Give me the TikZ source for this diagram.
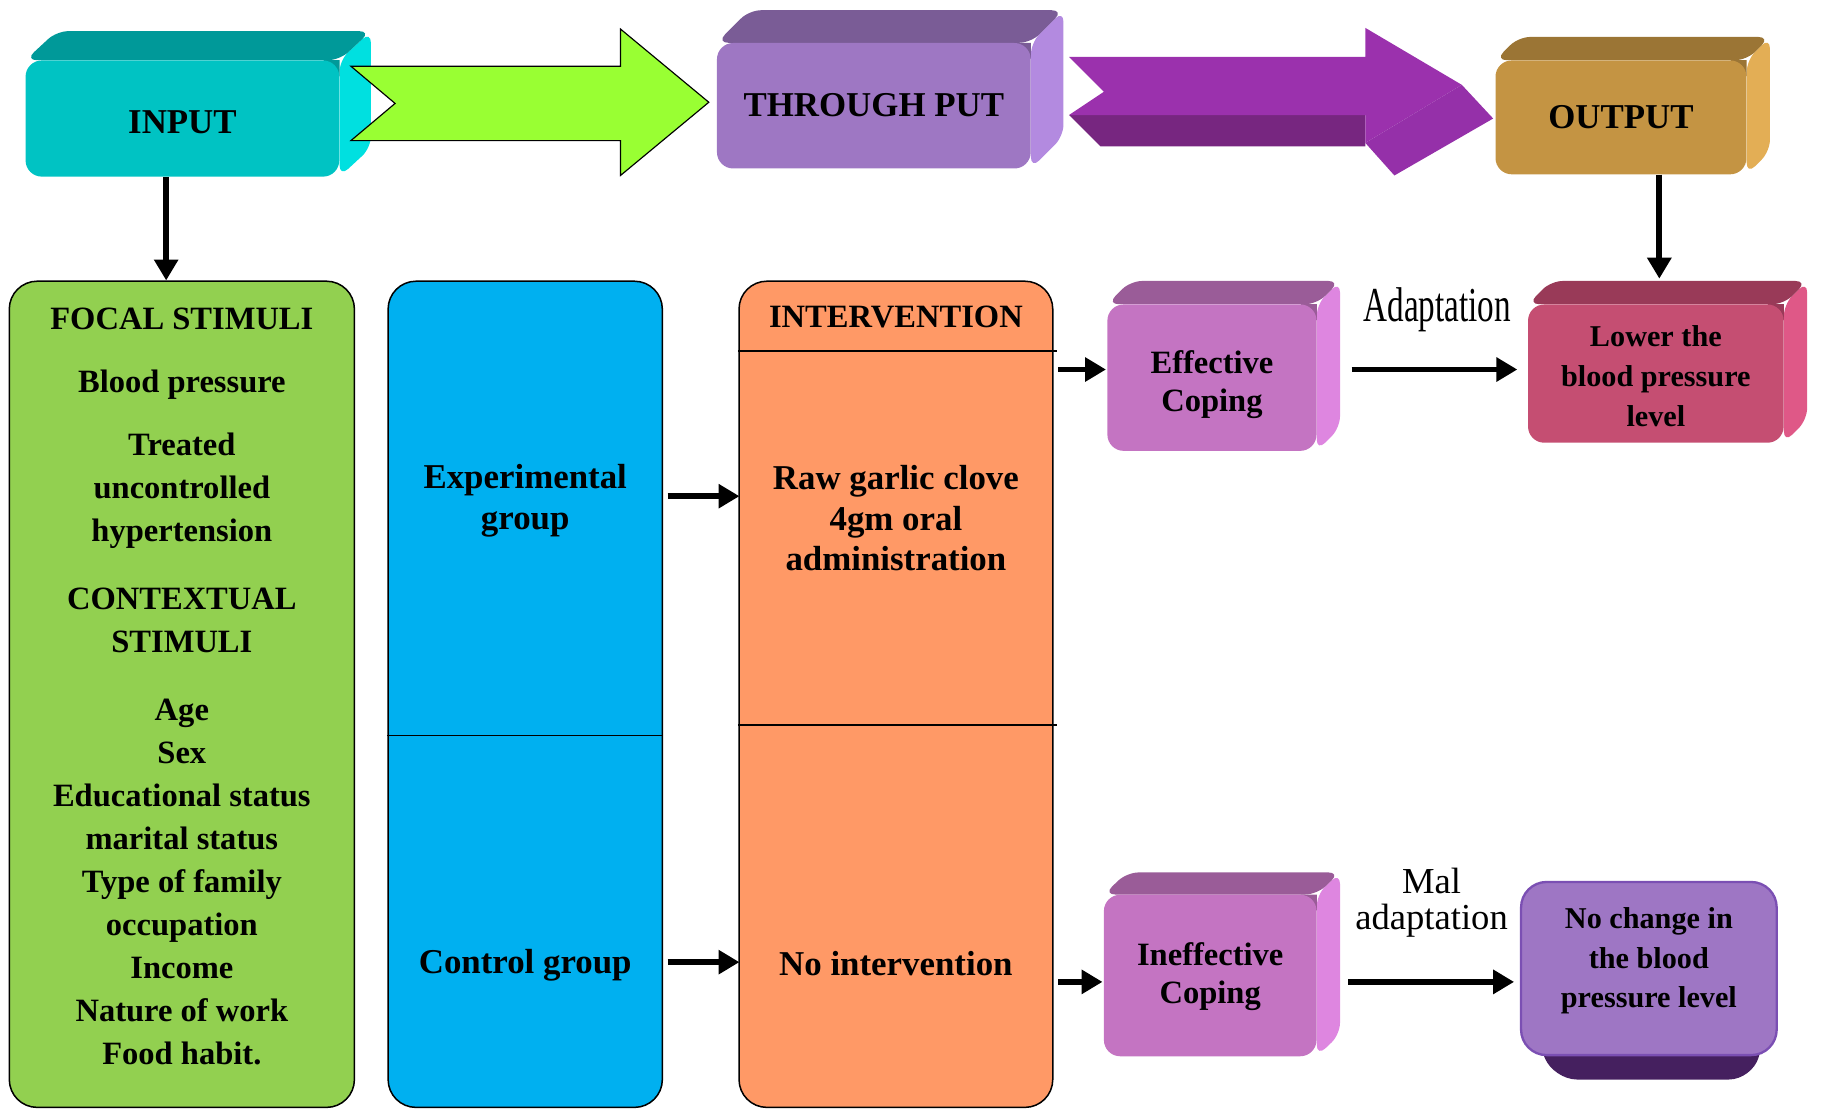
\documentclass[tikz,border=0pt]{standalone}
\usepackage{fontspec}
\setmainfont{Liberation Serif}
\newfontfamily\condensedfont[FakeStretch=0.68]{Liberation Serif}
\usetikzlibrary{arrows.meta,backgrounds,calc}

\definecolor{tealF}{HTML}{00C3C3}
\definecolor{tealT}{HTML}{009999}
\definecolor{tealS}{HTML}{00E0E0}
\definecolor{limeA}{HTML}{99FF33}
\definecolor{lavF}{HTML}{9E77C3}
\definecolor{lavT}{HTML}{7A5C96}
\definecolor{lavS}{HTML}{B38AE0}
\definecolor{purL}{HTML}{9B31AD}
\definecolor{purD}{HTML}{772680}
\definecolor{purS}{HTML}{9530A9}
\definecolor{goldF}{HTML}{C49443}
\definecolor{goldT}{HTML}{9B7535}
\definecolor{goldS}{HTML}{E3AE55}
\definecolor{focalG}{HTML}{92D050}
\definecolor{grpB}{HTML}{00B0F0}
\definecolor{intO}{HTML}{FF9966}
\definecolor{pinkF}{HTML}{C474C2}
\definecolor{pinkT}{HTML}{9A5C98}
\definecolor{pinkS}{HTML}{DE86E0}
\definecolor{redF}{HTML}{C54E72}
\definecolor{redT}{HTML}{993A58}
\definecolor{redS}{HTML}{DF5887}
\definecolor{nochF}{HTML}{9E76C4}
\definecolor{nochB}{HTML}{7B4FB3}
\definecolor{nochD}{HTML}{45205F}

\tikzset{
  cubeface/.style={rounded corners=14pt, inner sep=0pt, align=center, text=black},
  colbox/.style={draw=black, line width=1.3pt, rounded corners=24pt, inner sep=0pt},
  coltext/.style={align=center, inner sep=0pt, font=\fontsize{28}{37}\selectfont\bfseries},
  midtext/.style={align=center, inner sep=0pt, font=\fontsize{30}{35}\selectfont\bfseries},
  conn/.style={line width=5pt, -{Triangle[length=18pt,width=20pt]}},
  divline/.style={line width=1.4pt},
}

% shifted multi-line text (shift, lines), box size kept
\newcommand\shiftlines[2]{\raisebox{#1}[\height][\depth]{\begin{tabular}{@{}c@{}}#2\end{tabular}}}

\newcommand\boxfaces[5]{%
  \begin{pgfonlayer}{background}
    \fill[#5, rounded corners=10pt] (#1.north east) -- ($(#1.north east)+(#2,-#3)$) -- ($(#1.south east)+(#2,-#3)$) -- (#1.south east) -- cycle;
    \fill[#4, rounded corners=10pt] (#1.north west) -- ($(#1.north west)+(#2,-#3)$) -- ($(#1.north east)+(#2,-#3)$) -- (#1.north east) -- cycle;
    \fill[#4] ($(#1.north east)+(-14,0)$) -- ($(#1.north east)+(0,0)$) -- ($(#1.north east)+(0,14)$) -- cycle;
  \end{pgfonlayer}}

\begin{document}
\begin{tikzpicture}[x=1pt,y=-1pt]
\useasboundingbox (0,0) rectangle (1568,954);

% ---------- top row ----------
\node[cubeface, fill=tealF, minimum width=270pt, minimum height=100pt,
      font=\fontsize{30}{36}\selectfont\bfseries] (input) at (157,102) {\shiftlines{-6pt}{INPUT}};
\boxfaces{input}{27}{25}{tealT}{tealS}

\node[cubeface, fill=lavF, minimum width=270pt, minimum height=108pt,
      font=\fontsize{30}{36}\selectfont\bfseries] (through) at (752,91) {\shiftlines{-2pt}{THROUGH PUT}};
\boxfaces{through}{28}{28}{lavT}{lavS}

\node[cubeface, fill=goldF, minimum width=216pt, minimum height=98pt,
      font=\fontsize{30}{36}\selectfont\bfseries] (output) at (1395,101) {OUTPUT};
\boxfaces{output}{20}{20}{goldT}{goldS}

% green block arrow
\draw[fill=limeA, line width=1pt, line join=miter]
  (302,57) -- (534,57) -- (534,25) -- (610,88) -- (534,151) -- (534,121) -- (302,121) -- (340,89) -- cycle;

% purple 3D block arrow
\fill[purD] (920,99) -- (1175,99) -- (1175,126) -- (947,126) -- cycle;
\fill[purL] (920,49) -- (1175,49) -- (1175,24) -- (1258,73) -- (1175,123) -- (1175,99) -- (920,99) -- (950,79) -- cycle;
\fill[purS] (1175,123) -- (1258,73) -- (1285,102) -- (1200,151) -- cycle;

% ---------- columns ----------
\node[colbox, fill=focalG, minimum width=297pt, minimum height=711pt] (focal) at (156.5,597.5) {};
\node[colbox, fill=grpB, minimum width=236pt, minimum height=711pt] (grp) at (452,597.5) {};
\node[colbox, fill=intO, minimum width=270pt, minimum height=711pt] (interv) at (771,597.5) {};

\draw[divline] (grp.west |- 0,633) -- (grp.east |- 0,633);
\draw[divline] (interv.west |- 0,302) -- ($(interv.east |- 0,302)+(3,0)$);
\draw[divline] (interv.west |- 0,624) -- ($(interv.east |- 0,624)+(3,0)$);

% focal texts
\node[coltext] (t1) at (156.5,274) {FOCAL STIMULI};
\node[coltext] (t2) at (156.5,331) {Blood pressure};
\node[coltext] (t3) at (156.5,422) {Treated\\uncontrolled\\hypertension};
\node[coltext] (t4) at (156.5,533.5) {CONTEXTUAL\\STIMULI};
\node[coltext] (t5) at (156.5,759) {Age\\Sex\\Educational status\\marital status\\Type of family\\occupation\\Income\\Nature of work\\Food habit.};

% group texts
\node[midtext] (exptext) at (452,431) {Experimental\\group};
\node[midtext] (ctltext) at (452,831) {Control group};

% intervention texts
\node[midtext, font=\fontsize{28}{34}\selectfont\bfseries] (intitle) at (771,273) {INTERVENTION};
\node[midtext] (rawtext) at (771,446) {Raw garlic clove\\4gm oral\\administration};
\node[midtext] (notext) at (771,829) {No intervention};

% ---------- right side boxes ----------
\node[cubeface, fill=pinkF, minimum width=180pt, minimum height=126pt,
      font=\fontsize{28}{33}\selectfont\bfseries] (eff) at (1043,325) {\shiftlines{-6pt}{Effective\\Coping}};
\boxfaces{eff}{20}{20}{pinkT}{pinkS}

\node[cubeface, fill=redF, minimum width=220pt, minimum height=119pt,
      font=\fontsize{26}{34.5}\selectfont\bfseries] (lower) at (1425,321.5) {\shiftlines{-4pt}{Lower the\\blood pressure\\level}};
\boxfaces{lower}{20}{20}{redT}{redS}

\node[cubeface, fill=pinkF, minimum width=183pt, minimum height=139pt,
      font=\fontsize{28}{33}\selectfont\bfseries] (ineff) at (1041.5,839.5) {\shiftlines{-1pt}{Ineffective\\Coping}};
\boxfaces{ineff}{20}{19}{pinkT}{pinkS}

\fill[nochD, rounded corners=20pt] (1313,860) -- (1526,860) -- (1522,880) -- (1508,929) -- (1337,929) -- (1317,880) -- cycle;
\node[cubeface, fill=nochF, draw=nochB, line width=2pt, rounded corners=22pt,
      minimum width=220pt, minimum height=149pt,
      font=\fontsize{26}{34}\selectfont\bfseries] (noch) at (1419,833.5) {\shiftlines{7pt}{No change in\\the blood\\pressure level}};

\node[inner sep=0pt, font=\condensedfont\fontsize{42}{42}\selectfont] (adapt) at (1237,267) {Adaptation};
\node[inner sep=0pt, align=center, font=\fontsize{31.5}{31}\selectfont] (mal) at (1232,777) {Mal\\adaptation};

% ---------- connectors ----------
\draw[conn] ($(input.south)+(-14,0)$) -- ($(focal.north)+(-13.5,0)$);
\draw[conn] ($(output.south)+(33,0)$) -- ($(lower.north)+(3,-22)$);

\draw[conn] ($(grp.east |- exptext)+(4,-4)$) -- ($(interv.west |- exptext)+(1,-4)$);
\draw[conn] ($(grp.east |- ctltext)+(4,-3)$) -- ($(interv.west |- ctltext)+(1,-3)$);

\draw[conn] ($(interv.east |- eff)+(4,-7)$) -- ($(eff.west)+(-1,-7)$);
\draw[conn] ($(eff.east)+(30,-7)$) -- ($(lower.west |- eff)+(-9,-7)$);

\draw[conn] ($(interv.east |- ineff)+(4,5.5)$) -- ($(ineff.west)+(-1,5.5)$);
\draw[conn] ($(ineff.east)+(27,5.5)$) -- ($(noch.west |- ineff)+(-5,5.5)$);
\end{tikzpicture}
\end{document}
